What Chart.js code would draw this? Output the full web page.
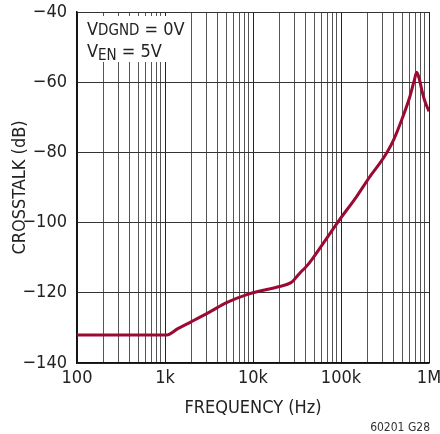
<!DOCTYPE html>
<html>
<head>
<meta charset="utf-8">
<script src="https://cdn.jsdelivr.net/npm/chart.js@4/dist/chart.umd.min.js"></script>
<style>
html,body{margin:0;padding:0;background:#fff;}
#wrap{width:440px;height:434px;position:relative;}
</style>
</head>
<body>
<div id="wrap"><canvas id="c" width="440" height="434"></canvas></div>
<script>
const FONT = "'Liberation Sans Narrow','DejaVu Sans Condensed','Liberation Sans',sans-serif";

const frequencyHz = [100, 1050, 1400, 2000, 3200, 5000, 8500, 12000, 20000, 27000, 30000, 34000, 40700, 48000, 69000, 93000, 151000, 214000, 278000, 330000, 400000, 490000, 608000, 680000, 725000, 780000, 826000, 900000, 1000000];
const crosstalkDb = [-132, -132, -130.2, -128.2, -125.5, -122.8, -120.5, -119.5, -118.2, -117.1, -116.0, -114.4, -112.4, -110.1, -104.4, -99.7, -92.5, -86.8, -83, -80.2, -76.2, -70.7, -64, -59.5, -57.2, -59.3, -62.1, -65.5, -68.3];

const xTickValues = [100,200,300,400,500,600,700,800,900,1000,2000,3000,4000,5000,6000,7000,8000,9000,10000,20000,30000,40000,50000,60000,70000,80000,90000,100000,200000,300000,400000,500000,600000,700000,800000,900000,1000000];
const xTickLabels = {100:'100',1000:'1k',10000:'10k',100000:'100k',1000000:'1M'};
const yTickValues = [-140,-120,-100,-80,-60,-40];

const points = frequencyHz.map((f,i)=>({x:f,y:crosstalkDb[i]}));

const notePlugin = {
  id:'note',
  beforeDatasetsDraw(chart){
    const ctx = chart.ctx;
    ctx.save();
    ctx.fillStyle = '#fff';
    ctx.fillRect(78, 16, 90, 46);
    ctx.fillStyle = '#222';
    ctx.textBaseline = 'alphabetic';
    ctx.textAlign = 'left';
    let x = 87;
    ctx.font = '18px ' + FONT;
    ctx.fillText('V', x, 35); x += ctx.measureText('V').width;
    ctx.font = '15px ' + FONT;
    ctx.fillText('DGND', x, 35); x += ctx.measureText('DGND').width;
    ctx.font = '18px ' + FONT;
    ctx.fillText(' = 0V', x, 35);
    x = 87;
    ctx.fillText('V', x, 57); x += ctx.measureText('V').width;
    ctx.font = '15px ' + FONT;
    ctx.fillText('EN', x, 60); x += ctx.measureText('EN').width;
    ctx.font = '18px ' + FONT;
    ctx.fillText(' = 5V', x, 57);
    ctx.restore();
  },
  afterDraw(chart){
    const ctx = chart.ctx;
    ctx.save();
    ctx.fillStyle = '#333';
    ctx.font = '12px ' + FONT;
    ctx.textAlign = 'right';
    ctx.textBaseline = 'alphabetic';
    ctx.fillText('60201 G28', 430, 431);
    ctx.restore();
  }
};

new Chart(document.getElementById('c'), {
  type:'line',
  data:{datasets:[{
    data:points,
    borderColor:'#9b0a32',
    borderWidth:3,
    pointRadius:0,
    cubicInterpolationMode:'monotone',
    fill:false
  }]},
  options:{
    responsive:false,
    animation:false,
    events:[],
    layout:{padding:{top:12,right:11,left:0,bottom:0}},
    plugins:{legend:{display:false},tooltip:{enabled:false}},
    scales:{
      x:{
        type:'logarithmic',
        min:100,max:1000000,
        afterBuildTicks(s){ s.ticks = xTickValues.map(v=>({value:v})); },
        afterFit(s){ s.height = 71; s.paddingLeft = 0; s.paddingRight = 0; },
        ticks:{
          autoSkip:false, maxRotation:0, minRotation:0, padding:6,
          color:'#222', font:{family:FONT,size:18,lineHeight:1},
          callback:(v)=> xTickLabels[v] !== undefined ? xTickLabels[v] : ''
        },
        grid:{
          drawTicks:false,
          color:(c)=> (c.tick && xTickLabels[c.tick.value]!==undefined) ? '#222' : '#555',
          lineWidth:1
        },
        border:{display:true,color:'#111',width:1.5},
        title:{display:true,text:'FREQUENCY (Hz)',color:'#222',font:{family:FONT,size:18,lineHeight:1},padding:{top:0,bottom:17}}
      },
      y:{
        type:'linear',
        min:-140,max:-40,
        afterBuildTicks(s){ s.ticks = yTickValues.map(v=>({value:v})); },
        afterFit(s){ s.width = 77; s.paddingTop = 0; s.paddingBottom = 0; },
        ticks:{
          padding:10, color:'#222', font:{family:FONT,size:18,lineHeight:1},
          callback:(v)=> String(v).replace('-','\u2212')
        },
        grid:{drawTicks:false,color:'#333',lineWidth:1},
        border:{display:true,color:'#111',width:1.5},
        title:{display:true,text:'CROSSTALK (dB)',color:'#222',font:{family:FONT,size:18,lineHeight:1},padding:{top:11,bottom:0}}
      }
    }
  },
  plugins:[notePlugin]
});
</script>
</body>
</html>
